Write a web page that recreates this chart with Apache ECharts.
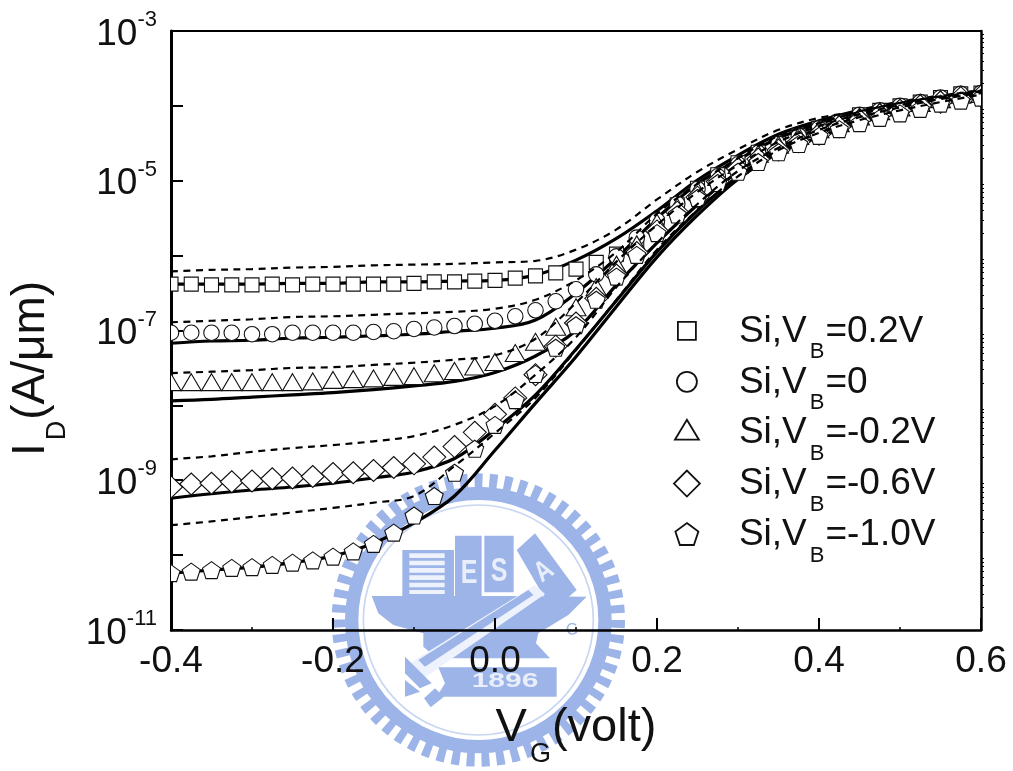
<!DOCTYPE html>
<html>
<head>
<meta charset="utf-8">
<style>html,body{margin:0;padding:0;background:#fff}#c{width:1013px;height:771px}</style>
<script src="https://cdn.jsdelivr.net/npm/echarts@6/dist/echarts.min.js"></script>
</head>
<body>
<div id="c"></div>
<script>
// Gate voltages, volt
const vMarks = [-0.4,-0.375,-0.35,-0.325,-0.3,-0.275,-0.25,-0.225,-0.2,-0.175,-0.15,-0.125,-0.1,-0.075,-0.05,-0.025,0,0.025,0.05,0.075,0.1,0.125,0.15,0.175,0.2,0.225,0.25,0.275,0.3,0.325,0.35,0.375,0.4,0.425,0.45,0.475,0.5,0.525,0.55,0.575,0.6];
const vLines = [-0.4,-0.35,-0.3,-0.25,-0.2,-0.15,-0.1,-0.05,0,0.05,0.1,0.15,0.2,0.25,0.3,0.35,0.4,0.45,0.5,0.55,0.6];
// Each number n below means I_D = 10^-n A/um
const squareDecades = [6.38,6.38,6.39,6.39,6.39,6.38,6.39,6.38,6.38,6.38,6.38,6.38,6.37,6.35,6.35,6.34,6.33,6.30,6.27,6.23,6.18,6.09,5.98,5.82,5.58,5.32,5.10,4.92,4.76,4.62,4.51,4.40,4.30,4.22,4.12,4.06,4.00,3.95,3.89,3.84,3.83];
const circleDecades = [7.03,7.03,7.03,7.03,7.05,7.05,7.03,7.03,7.03,7.03,7.02,7.01,6.98,6.96,6.94,6.91,6.87,6.81,6.73,6.61,6.45,6.25,6.01,5.76,5.53,5.31,5.11,4.94,4.78,4.63,4.51,4.40,4.30,4.22,4.12,4.06,4.00,3.95,3.89,3.84,3.83];
const triangleDecades = [7.69,7.69,7.69,7.69,7.69,7.69,7.69,7.68,7.66,7.65,7.64,7.62,7.61,7.57,7.54,7.48,7.42,7.30,7.15,6.95,6.69,6.42,6.12,5.85,5.56,5.35,5.13,4.95,4.79,4.64,4.52,4.40,4.31,4.23,4.14,4.07,4.02,3.96,3.91,3.85,3.84];
const diamondDecades = [9.09,9.05,9.04,9.02,9.01,8.98,8.97,8.95,8.91,8.90,8.87,8.83,8.78,8.69,8.55,8.36,8.12,7.90,7.59,7.21,6.90,6.57,6.26,5.96,5.67,5.42,5.22,5.01,4.84,4.71,4.59,4.48,4.38,4.28,4.19,4.12,4.06,4.00,3.95,3.89,3.87];
const pentagonDecades = [10.24,10.22,10.20,10.17,10.16,10.13,10.10,10.07,10.02,9.95,9.85,9.70,9.47,9.21,8.90,8.58,8.26,7.93,7.58,7.23,6.93,6.59,6.28,5.99,5.70,5.45,5.23,5.03,4.88,4.75,4.62,4.51,4.40,4.31,4.23,4.16,4.10,4.04,3.97,3.93,3.89];
const solid1 = [6.38,6.38,6.38,6.37,6.37,6.35,6.35,6.34,6.33,6.26,6.06,5.77,5.40,4.99,4.66,4.38,4.20,4.06,3.95,3.87,3.80];
const solid2 = [7.17,7.14,7.13,7.10,7.09,7.07,7.05,7.01,6.97,6.86,6.50,6.03,5.50,5.04,4.72,4.43,4.24,4.08,3.97,3.88,3.81];
const solid3 = [7.94,7.92,7.89,7.86,7.83,7.79,7.74,7.68,7.56,7.34,7.00,6.39,5.83,5.32,4.88,4.55,4.30,4.12,4.00,3.91,3.84];
const solid4 = [9.24,9.18,9.13,9.09,9.04,8.97,8.89,8.71,8.32,7.86,7.25,6.60,5.95,5.40,4.94,4.60,4.36,4.19,4.06,3.95,3.85];
const solid5 = [10.24,10.20,10.16,10.10,10.01,9.84,9.57,9.21,8.60,7.97,7.35,6.68,6.02,5.46,4.98,4.63,4.42,4.23,4.08,3.96,3.87];
const dashed1 = [6.21,6.19,6.18,6.16,6.15,6.13,6.12,6.11,6.09,6.07,5.92,5.65,5.25,4.88,4.58,4.32,4.16,4.07,3.96,3.87,3.79];
const dashed2 = [6.89,6.87,6.85,6.82,6.81,6.79,6.77,6.75,6.71,6.59,6.33,5.95,5.44,5.04,4.70,4.40,4.23,4.08,3.96,3.88,3.80];
const dashed3 = [7.57,7.55,7.53,7.50,7.49,7.46,7.43,7.39,7.33,7.11,6.63,6.08,5.59,5.15,4.79,4.48,4.27,4.11,3.99,3.89,3.81];
const dashed4 = [8.72,8.68,8.62,8.57,8.53,8.48,8.41,8.26,8.01,7.59,7.09,6.42,5.83,5.31,4.87,4.56,4.32,4.15,4.02,3.91,3.83];
const dashed5 = [9.60,9.55,9.49,9.43,9.37,9.30,9.21,8.81,8.37,7.90,7.26,6.59,5.92,5.39,4.94,4.59,4.36,4.19,4.06,3.95,3.85];
const legendNames = ['0.2V','0','-0.2V','-0.6V','-1.0V'];
const yTickExponents = [-3,-5,-7,-9,-11];
const xTicks = [-0.4,-0.2,0,0.2,0.4,0.6];

const FONT = '"Liberation Sans", Arial, sans-serif';
const pts = (xs, decades) => xs.map((x, i) => [x, Math.pow(10, -decades[i])]);

const BOX = 'M0 0L0 0M26 50L26 50';
const markerDefs = [
  {vals: squareDecades, path: 'M-1 -1H1V1H-1Z', w: 14, h: 14, icon: 'path://' + BOX + 'M4 9H22V27H4Z'},
  {vals: circleDecades, path: 'M-1 0A1 1 0 1 0 1 0A1 1 0 1 0 -1 0Z', w: 15.5, h: 15.5, icon: 'path://' + BOX + 'M3 18A10 10 0 1 0 23 18A10 10 0 1 0 3 18Z'},
  {vals: triangleDecades, path: 'M0 -1L1 1L-1 1Z', w: 20, h: 17, icon: 'path://' + BOX + 'M1 25L13 5L25 25Z'},
  {vals: diamondDecades, path: 'M-1 0L0 -1L1 0L0 1Z', w: 23, h: 22, icon: 'path://' + BOX + 'M0 18L13 5L26 18L13 31Z'},
  {vals: pentagonDecades, path: 'M0 -1L.951 -.309L.588 .809L-.588 .809L-.951 -.309Z', w: 18, h: 17, icon: 'path://' + BOX + 'M13 6.5L24.5 15L20 28.5H6L1.5 15Z'}
];

const series = [];
[solid1, solid2, solid3, solid4, solid5].forEach((d, i) => series.push({
  name: 'solid' + i, type: 'line', data: pts(vLines, d), showSymbol: false, smooth: 0.35, z: 2,
  lineStyle: {color: '#000', width: 3.2}, silent: true
}));
markerDefs.forEach((m, i) => series.push({
  name: legendNames[i], type: 'custom', coordinateSystem: 'cartesian2d', data: pts(vMarks, m.vals),
  encode: {x: 0, y: 1}, clip: true, z: 3 + i * 0.1, silent: true,
  renderItem: (params, api) => {
    const p = api.coord([api.value(0), api.value(1)]);
    return {
      type: 'path',
      shape: {pathData: m.path, layout: 'cover', x: p[0] - m.w / 2, y: p[1] - m.h / 2, width: m.w, height: m.h},
      style: {fill: '#fff', stroke: '#111', lineWidth: 1.1}
    };
  }
}));
[dashed1, dashed2, dashed3, dashed4, dashed5].forEach((d, i) => series.push({
  name: 'dashed' + i, type: 'line', data: pts(vLines, d), showSymbol: false, smooth: 0.35, z: 4,
  lineStyle: {color: '#000', width: 2.2, type: [7, 5.5]}, silent: true
}));

const BLUE = '#9db4e8';
const poly = (points, fill) => ({type: 'polygon', shape: {points}, style: {fill: fill || BLUE}, z: -1, silent: true});
const txt = (x, y, text, size, rot, sx) => ({type: 'text', x, y, rotation: rot || 0, scaleX: sx || 1, z: -1, silent: true,
  style: {text, fill: '#e9eefb', font: 'bold ' + size + 'px ' + FONT, align: 'center', verticalAlign: 'middle'}});
const logo = {
  type: 'group', x: 320, y: 470, scaleX: 1 / 3, scaleY: 1 / 3, silent: true,
  children: [
    {type: 'circle', shape: {cx: 475, cy: 450, r: 419}, z: -1, silent: true, style: {fill: 'none', stroke: BLUE, lineWidth: 42, lineDash: [24, 20.6]}},
    {type: 'ring', shape: {cx: 475, cy: 450, r: 400, r0: 360}, z: -1, silent: true, style: {fill: BLUE}},
    {type: 'circle', shape: {cx: 475, cy: 450, r: 345}, z: -1, silent: true, style: {fill: 'none', stroke: '#c9d6f2', lineWidth: 5}},
    {type: 'rect', shape: {x: 247, y: 240, width: 155, height: 140}, z: -1, silent: true, style: {fill: BLUE}},
    {type: 'rect', shape: {x: 405, y: 197, width: 80, height: 185}, z: -1, silent: true, style: {fill: BLUE}},
    {type: 'rect', shape: {x: 493, y: 197, width: 88, height: 170}, z: -1, silent: true, style: {fill: BLUE}},
    {type: 'rect', shape: {x: 268, y: 250, width: 106, height: 14}, z: -1, silent: true, style: {fill: '#eef2fc'}},
    {type: 'rect', shape: {x: 268, y: 272, width: 106, height: 14}, z: -1, silent: true, style: {fill: '#eef2fc'}},
    {type: 'rect', shape: {x: 268, y: 294, width: 106, height: 14}, z: -1, silent: true, style: {fill: '#eef2fc'}},
    {type: 'rect', shape: {x: 268, y: 316, width: 106, height: 14}, z: -1, silent: true, style: {fill: '#eef2fc'}},
    {type: 'rect', shape: {x: 268, y: 338, width: 106, height: 14}, z: -1, silent: true, style: {fill: '#eef2fc'}},
    {type: 'rect', shape: {x: 268, y: 360, width: 106, height: 12}, z: -1, silent: true, style: {fill: '#eef2fc'}},
    poly([[155,378],[590,378],[800,380],[745,435],[655,490],[648,520],[690,565],[380,565],[345,560],[310,530],[310,490],[220,465],[175,430]]),
    poly([[590,240],[645,190],[770,360],[700,420],[660,360]]),
    poly([[645,345],[675,372],[325,615],[290,640],[255,590],[300,560]], '#eef2fc'),
    poly([[625,360],[640,375],[315,590],[295,570]]),
    poly([[255,560],[335,640],[300,655],[255,610]]),
    poly([[255,630],[300,665],[255,680]]),
    poly([[345,655],[372,680],[332,712],[312,685]]),
    poly([[355,592],[710,592],[710,680],[350,680],[375,640]]),
    txt(447, 312, 'E', 100, 0, 0.75),
    txt(537, 305, 'S', 100, 0, 0.75),
    txt(672, 305, 'A', 85, 0.6, 0.8),
    txt(555, 635, '1896', 60, 0, 1.5),
    {type: 'text', x: 757, y: 480, rotation: 0.2, z: -1, silent: true, style: {text: 'C', fill: BLUE, font: '50px ' + FONT, align: 'center', verticalAlign: 'middle'}}
  ]
};

const tickRich = {
  b: {fontSize: 37, fontFamily: FONT, color: '#111', lineHeight: 44, verticalAlign: 'bottom'},
  s: {fontSize: 22, fontFamily: FONT, color: '#111', lineHeight: 44, verticalAlign: 'top'}
};
const legendRich = {
  b: {fontSize: 37, fontFamily: FONT, color: '#111', lineHeight: 37, verticalAlign: 'top'},
  s: {fontSize: 22, fontFamily: FONT, color: '#111', lineHeight: 50, verticalAlign: 'bottom', padding: [0,1,0,3]}
};
const titleRichX = {
  b: {fontSize: 47, fontFamily: FONT, color: '#111', lineHeight: 47, verticalAlign: 'top'},
  s: {fontSize: 27, fontFamily: FONT, color: '#111', lineHeight: 63, verticalAlign: 'bottom', padding: [0,1,0,3]}
};
const titleRichY = {
  b: {fontSize: 46, fontFamily: FONT, color: '#111', lineHeight: 46, verticalAlign: 'top'},
  s: {fontSize: 27, fontFamily: FONT, color: '#111', lineHeight: 63, verticalAlign: 'bottom', padding: [0,1,0,3]}
};

const option = {
  backgroundColor: '#fff',
  animation: false,
  graphic: [logo],
  grid: {left: 171, right: 32, top: 31, bottom: 141, outerBoundsMode: 'none'},
  legend: {
    show: true, orient: 'vertical', left: 668, top: 307, itemGap: -0.9, itemWidth: 26, itemHeight: 50,
    selectedMode: false, align: 'left', symbolKeepAspect: true,
    data: legendNames.map((n, i) => ({name: n, icon: markerDefs[i].icon, itemStyle: {color: '#fff', borderColor: '#111', borderWidth: 1.8}})),
    formatter: n => '{b|Si,V}{s|B}{b|=' + n + '}',
    textStyle: {rich: legendRich, padding: [0, 0, 0, 34]}
  },
  xAxis: [
    {type: 'value', min: -0.4, max: 0.6, interval: 0.2, position: 'bottom',
      name: '{b|V}{s|G}{b|(volt)}', nameLocation: 'middle', nameGap: 75,
      nameTextStyle: {rich: titleRichX},
      axisLine: {show: true, onZero: false, lineStyle: {color: '#000', width: 2.5}},
      axisTick: {show: true, inside: true, length: 12, lineStyle: {color: '#000', width: 2}},
      minorTick: {show: true, splitNumber: 2, length: 3, lineStyle: {color: '#000', width: 1.5}},
      splitLine: {show: false},
      axisLabel: {margin: 13, fontSize: 37, fontFamily: FONT, color: '#111', hideOverlap: false, showMinLabel: true, showMaxLabel: true,
        formatter: v => xTicks.some(t => Math.abs(t - v) < 1e-9) ? v.toFixed(1) : ''}},
    {type: 'value', min: -0.4, max: 0.6, interval: 0.2, position: 'top',
      axisLine: {show: true, onZero: false, lineStyle: {color: '#000', width: 2}},
      axisTick: {show: false}, axisLabel: {show: false}, splitLine: {show: false}}
  ],
  yAxis: [
    {type: 'log', logBase: 10, min: 1e-11, max: 1e-3, position: 'left',
      name: '{b|I}{s|D}{b|(A/\u03bcm)}', nameLocation: 'middle', nameGap: 100, nameRotate: 90,
      nameTextStyle: {padding: [0, 76, 0, 0], rich: titleRichY},
      axisLine: {show: true, onZero: false, lineStyle: {color: '#000', width: 3}},
      axisTick: {show: true, inside: true, length: 12, lineStyle: {color: '#000', width: 2}},
      minorTick: {show: true, splitNumber: 9, length: 2, lineStyle: {color: '#000', width: 1}},
      splitLine: {show: false}, minorSplitLine: {show: false},
      axisLabel: {margin: 14, hideOverlap: false, showMinLabel: true, showMaxLabel: true, rich: tickRich,
        formatter: v => { const e = Math.round(Math.log10(v)); return yTickExponents.includes(e) ? '{b|10}{s|' + e + '}' : ''; }}},
    {type: 'log', logBase: 10, min: 1e-11, max: 1e-3, position: 'right',
      axisLine: {show: true, onZero: false, lineStyle: {color: '#000', width: 2.5}},
      axisTick: {show: false}, axisLabel: {show: false}, splitLine: {show: false},
      minorTick: {show: true, splitNumber: 9, length: 3, lineStyle: {color: '#000', width: 1}}}
  ],
  series
};
const chart = echarts.init(document.getElementById('c'), null, {renderer: 'canvas'});
chart.setOption(option);
</script>
</body>
</html>
